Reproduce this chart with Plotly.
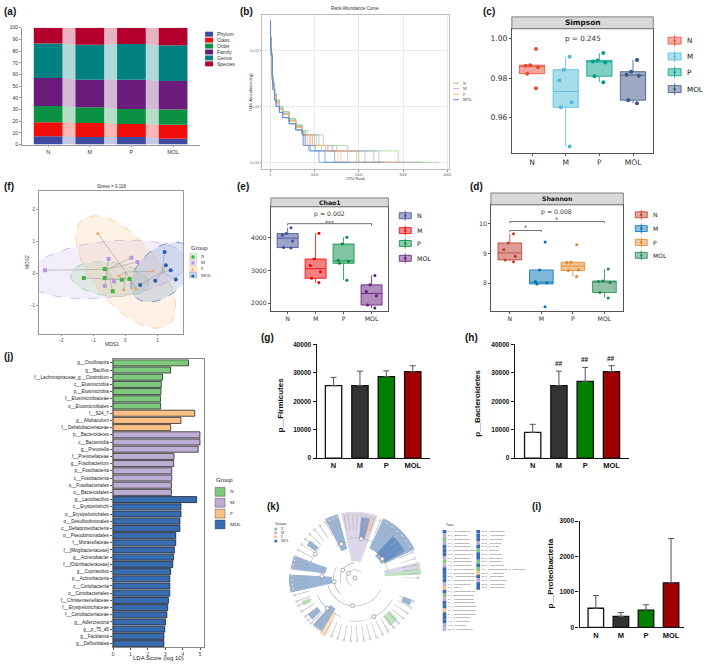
import numpy as np
import plotly.graph_objects as go

W, H = 709, 667
SANS = "Liberation Sans, Arial"
DV = "DejaVu Sans"
SERIF = "Liberation Serif"

groups = ["N", "M", "P", "MOL"]

# (a) annotation ratio at each taxonomic level (%)
a_levels = ["Phylum", "Class", "Order", "Family", "Genus", "Species"]
a_phylum = [7.0, 6.5, 6.5, 5.0]
a_class = [12.0, 12.0, 11.0, 12.0]
a_order = [14.0, 13.5, 13.0, 13.0]
a_family = [24.0, 23.5, 25.0, 24.5]
a_genus = [29.5, 30.0, 30.5, 30.5]
a_species = [13.5, 14.5, 14.0, 15.0]

# (b) rank abundance: head of the curve per group, tail break ranks per sample
b_rank_head = [1, 5, 12, 22, 44, 60, 96, 132, 206, 280, 426, 574, 720]
b_head_N = [0.031, 0.018, 0.012, 0.0092, 0.0037, 0.0026, 0.0017, 0.0013, 0.00098, 0.0008, 0.0006, 0.00046, 0.00037]
b_head_M = [0.031, 0.017, 0.0115, 0.0088, 0.0034, 0.0024, 0.0016, 0.0012, 0.0009, 0.00074, 0.00056, 0.00043, 0.00035]
b_head_P = [0.032, 0.017, 0.0115, 0.0088, 0.0034, 0.0023, 0.0015, 0.00115, 0.00088, 0.00072, 0.00055, 0.00042, 0.00034]
b_head_MOL = [0.034, 0.017, 0.011, 0.0082, 0.003, 0.002, 0.0013, 0.001, 0.00078, 0.00063, 0.00049, 0.00038, 0.00032]
b_tail_levels = [0.00031, 0.0002, 0.00016, 0.0001, 0.0001]
b_tail_N = [[800, 1100, 1500, 2340, 3810], [850, 1200, 1750, 2890, 3500], [750, 1000, 1400, 2000, 2900]]
b_tail_M = [[760, 950, 1300, 1750, 3370], [740, 900, 1250, 2140, 2700], [780, 1050, 1400, 2450, 3000]]
b_tail_P = [[740, 950, 1250, 1530, 2560], [730, 900, 1300, 1950, 2850], [725, 850, 1150, 1600, 2200]]
b_tail_MOL = [[725, 760, 900, 1235, 1530], [730, 800, 1015, 1455, 1750], [722, 740, 870, 1100, 2560]]

# (c) Simpson, (e) Chao1, (d) Shannon
simpson_N = [0.9947, 0.9866, 0.9863, 0.9856, 0.9823, 0.9749]
simpson_M = [0.9909, 0.9843, 0.9788, 0.9678, 0.9653, 0.9455]
simpson_P = [0.9927, 0.9890, 0.9885, 0.9880, 0.9810, 0.9780]
simpson_MOL = [0.9892, 0.9833, 0.9818, 0.9812, 0.9689, 0.9673]
chao_N = [4310, 4130, 4080, 3900, 3700, 3690]
chao_M = [4140, 3350, 3150, 2960, 2760, 2630]
chao_P = [4020, 3810, 3310, 3280, 3220, 2700]
chao_MOL = [2850, 2560, 2360, 2230, 1940, 1850]
shannon_N = [9.66, 9.35, 9.13, 8.90, 8.78, 8.72]
shannon_M = [9.38, 8.44, 8.05, 8.01, 7.97, 7.20]
shannon_P = [9.29, 8.70, 8.69, 8.45, 8.42, 8.22]
shannon_MOL = [8.47, 8.07, 8.05, 8.02, 7.68, 7.50]

# (f) NMDS scores
nmds_N_x = [-1.29, -0.64, -0.64, -0.39, -0.11, 0.13]
nmds_N_y = [-0.13, 0.15, -0.13, -0.55, -0.19, -0.16]
nmds_M_x = [-2.50, -0.52, 0.19, 0.38, -0.35, -0.64]
nmds_M_y = [0.11, 0.46, 0.50, 0.37, -0.24, -0.38]
nmds_P_x = [-0.86, -0.20, -0.05, 0.33, 0.85]
nmds_P_y = [1.26, -0.07, -0.51, -0.48, 0.08]
nmds_MOL_x = [0.46, 0.93, 1.22, 1.26, 1.41, 1.57]
nmds_MOL_y = [-0.35, -0.22, 0.68, 0.27, 0.11, -0.18]
CHI2_95 = 5.991  # qchisq(0.95, 2)

# (j) LEfSe LDA scores
lda_taxa = ["g__Oscillospira", "g__Bacillus", "f__Lachnospiraceae_g__Clostridium", "c__Elusimicrobia",
            "p__Elusimicrobia", "f__Elusimicrobiaceae", "o__Elusimicrobiales", "f__S24_7", "g__Allobaculum",
            "f__Dehalobacteriaceae", "p__Bacteroidetes", "c__Bacteroidia", "g__Prevotella", "f__Prevotellaceae",
            "g__Fusobacterium", "p__Fusobacteria", "c__Fusobacteriia", "o__Fusobacteriales", "o__Bacteroidales",
            "g__Lactobacillus", "c__Erysipelotrichi", "o__Erysipelotrichales", "o__Desulfovibrionales",
            "c__Deltaproteobacteria", "o__Pseudomonadales", "f__Moraxellaceae", "f__[Mogibacteriaceae]",
            "g__Acinetobacter", "f__[Odoribacteraceae]", "g__Cupriavidus", "p__Actinobacteria", "c__Coriobacteriia",
            "o__Coriobacteriales", "f__Christensenellaceae", "f__Erysipelotrichaceae", "f__Coriobacteriaceae",
            "g__Adlercreutzia", "g__p_75_a5", "g__Facklamia", "g__Defluviitalea"]
lda_score = [4.33, 3.30, 2.84, 2.77, 2.75, 2.73, 2.73, 4.69, 3.90, 3.31,
             4.99, 4.99, 4.89, 3.50, 3.48, 3.37, 3.37, 3.35, 3.35,
             4.80, 3.90, 3.90, 3.84, 3.84, 3.60, 3.60, 3.52, 3.48, 3.43, 3.31,
             3.26, 3.26, 3.26, 3.18, 3.14, 3.09, 3.01, 2.97, 2.92, 2.92]
lda_group = ["N"] * 7 + ["P"] * 3 + ["M"] * 9 + ["MOL"] * 21

# (g) (h) (i) phylum level abundance, mean and SD
firm_mean = [25500, 25500, 28700, 30400]
firm_err = [2900, 5100, 2000, 2100]
bact_mean = [9100, 25500, 27000, 30400]
bact_err = [2800, 5100, 4900, 2100]
bact_sig = ["", "##", "##", "##"]
proteo_mean = [540, 310, 490, 1260]
proteo_err = [360, 110, 150, 1250]

# (k) cladogram: highlighted clades (degrees, radius 0-1)
clade_theta = [86, 80, 74, 45, 38, 111, 143, 166, 185, 206, 221, 233, 240, 311, 336, 11, 5.5]
clade_width = [32, 8, 3, 39, 20, 12, 6, 12, 16, 5, 7, 10, 5, 10, 6, 6, 5]
clade_base = [0.25, 0.6, 0.65, 0.5, 0.45, 0.45, 0.72, 0.45, 0.35, 0.75, 0.72, 0.55, 0.6, 0.72, 0.78, 0.45, 0.45]
clade_top = [1.0, 0.92, 0.95, 1.0, 0.85, 1.0, 0.88, 0.98, 1.0, 0.88, 0.9, 0.95, 1.0, 0.9, 0.92, 1.0, 1.0]
clade_group = ["M", "MOL", "P", "MOL", "MOL", "MOL", "MOL", "MOL", "MOL", "N", "MOL", "MOL", "P", "N", "MOL", "M", "N"]
clade_leaf_theta = [0, 4, 8, 12, 18, 24, 30, 36, 42, 48, 54, 60, 66, 72, 76, 80, 84, 88, 92, 96, 100, 106,
                    110, 114, 118, 124, 130, 136, 142, 148, 154, 160, 164, 168, 172, 178, 182, 186, 190, 196,
                    202, 206, 212, 218, 222, 226, 230, 234, 238, 242, 248, 254, 260, 266, 272, 278, 284, 290,
                    296, 302, 308, 314, 320, 326, 332, 338]
clade_arc_r = [0.12, 0.22, 0.32, 0.42, 0.5, 0.55, 0.6, 0.5, 0.62, 0.65, 0.7]
clade_arc_from = [40, 95, 150, 195, 158, 102, 62, 8, 205, 262, 138]
clade_arc_to = [250, 200, 230, 335, 195, 122, 100, 62, 250, 330, 160]
taxa_col1 = ["a: c__Coriobacteriia", "b: c__Bacteroidia", "c: c__Elusimicrobia", "d: c__Fusobacteriia",
             "e: c__Erysipelotrichi", "f: c__Deltaproteobacteria", "g: o__Coriobacteriales", "h: o__Bacteroidales",
             "i: o__Elusimicrobiales", "j: o__Fusobacteriales", "k: o__Erysipelotrichales",
             "l: o__Desulfovibrionales", "m: o__Pseudomonadales", "n: f__Coriobacteriaceae", "o: f__Prevotellaceae",
             "p: f__S24_7", "q: f__[Odoribacteraceae]", "r: f__Elusimicrobiaceae", "s: f__Fusobacteriaceae",
             "t: f__[Mogibacteriaceae]", "u: f__Christensenellaceae", "v: f__Dehalobacteriaceae",
             "w: f__Erysipelotrichaceae", "x: f__Moraxellaceae", "y: g__Adlercreutzia", "z: g__Prevotella",
             "a0: g__Fusobacterium"]
taxa_col1_group = ["MOL", "M", "N", "M", "MOL", "MOL", "MOL", "M", "N", "M", "MOL", "MOL", "MOL", "MOL", "M",
                   "P", "MOL", "N", "M", "MOL", "MOL", "P", "MOL", "MOL", "MOL", "M", "M"]
taxa_col2 = ["b0: g__Lactobacillus", "c0: g__Acinetobacter", "d0: g__Cupriavidus", "e0: g__Prevotella",
             "f0: g__p_75_a5", "g0: g__Bacillus", "h0: g__Facklamia", "i0: g__Defluviitalea", "j0: g__Oscillospira",
             "k0: g__Adlercreutzia", "l0: f__Lachnospiraceae_g__Clostridium", "m0: g__Allobaculum",
             "n0: g__Defluviitalea", "o0: g__Fusobacterium", "p0: g__Acinetobacter", "q0: g__Lactobacillus"]
taxa_col2_group = ["MOL", "MOL", "MOL", "M", "MOL", "N", "MOL", "MOL", "N", "MOL", "N", "P", "MOL", "M", "MOL", "MOL"]

accent = {"N": "#7FC97F", "M": "#BEAED4", "P": "#FDC086", "MOL": "#386CB0"}


def px(x):
    return x / W


def py(y):
    return 1 - y / H


def rgba(hexcol, a):
    h = hexcol.lstrip("#")
    return "rgba(%d,%d,%d,%s)" % (int(h[0:2], 16), int(h[2:4], 16), int(h[4:6], 16), a)


fig = go.Figure()
layout = dict(width=W, height=H, margin=dict(l=0, r=0, t=0, b=0), paper_bgcolor="white",
              plot_bgcolor="white", showlegend=False, barmode="overlay", hovermode=False,
              font=dict(family=SANS, size=6, color="#222"))
shapes = []
annotations = []


def set_axes(n, xdom, ydom, xkw, ykw):
    s = "" if n == 1 else str(n)
    base = dict(showgrid=False, zeroline=False)
    layout["xaxis" + s] = dict(base, domain=[px(xdom[0]), px(xdom[1])], anchor="y" + s, **xkw)
    layout["yaxis" + s] = dict(base, domain=[py(ydom[1]), py(ydom[0])], anchor="x" + s, **ykw)
    return "x" + s, "y" + s


def text(x, y, s, size, color="#222", family=SANS, bold=False, xanchor="center", angle=0):
    annotations.append(dict(x=px(x), y=py(y), xref="paper", yref="paper", text=s, showarrow=False,
                            xanchor=xanchor, yanchor="middle", textangle=angle,
                            font=dict(size=size, color=color, family=family,
                                      weight="bold" if bold else "normal")))


def rect(x0, y0, x1, y1, fill, line="rgba(0,0,0,0)", lw=0.5):
    shapes.append(dict(type="rect", xref="paper", yref="paper", x0=px(x0), x1=px(x1), y0=py(y1), y1=py(y0),
                       fillcolor=fill, line=dict(color=line, width=lw)))


def seg(x0, y0, x1, y1, color, lw=0.8, dash="solid"):
    shapes.append(dict(type="line", xref="paper", yref="paper", x0=px(x0), x1=px(x1), y0=py(y0), y1=py(y1),
                       line=dict(color=color, width=lw, dash=dash)))


def box_legend(x, ys, cols, size, s=6, hb=3, hw=5.5):
    for y, lab, col in zip(ys, groups, cols):
        seg(x + s, y - hw, x + s, y + hw, col, 0.8)
        rect(x, y - hb, x + 2 * s, y + hb, rgba(col, 0.45), col, 0.8)
        shapes.append(dict(type="circle", xref="paper", yref="paper", x0=px(x + s - 1.2), x1=px(x + s + 1.2),
                           y0=py(y + 1.2), y1=py(y - 1.2), fillcolor=col, line=dict(width=0)))
        text(x + 2 * s + 4, y, lab, size, "#222", DV, xanchor="left")


# ---------------- (a) ----------------
a_vals = [a_phylum, a_class, a_order, a_family, a_genus, a_species]
a_cols = ["#3D4BA3", "#F20D0D", "#0B9142", "#6A1B7B", "#008080", "#B3002D"]
a_w = 0.69
a_x = np.arange(len(groups))
axis_a = dict(showline=True, linecolor="#999", linewidth=0.6, ticks="outside", ticklen=2, tickcolor="#999")
xa, ya = set_axes(1, (21, 200), (24, 142),
                  dict(axis_a, range=[-0.63, 3.65], tickvals=a_x, ticktext=groups, tickfont=dict(size=5.5, color="#333")),
                  dict(axis_a, range=[0, 100], dtick=10, tickfont=dict(size=5, color="#333")))
bottom = np.zeros(len(groups))
for lev, vals, col in zip(a_levels, a_vals, a_cols):
    top = bottom + np.array(vals)
    for i in range(len(groups) - 1):
        fig.add_trace(go.Scatter(x=[i + a_w / 2, i + 1 - a_w / 2, i + 1 - a_w / 2, i + a_w / 2],
                                 y=[bottom[i], bottom[i + 1], top[i + 1], top[i]], mode="lines", fill="toself",
                                 fillcolor=rgba(col, 0.3), line=dict(width=0), xaxis=xa, yaxis=ya, hoverinfo="skip"))
    fig.add_trace(go.Bar(x=a_x, y=vals, base=bottom, width=a_w, marker=dict(color=col, line=dict(width=0)),
                         xaxis=xa, yaxis=ya, name=lev))
    bottom = top
for k, (lev, col) in enumerate(zip(a_levels, a_cols)):
    y = 30.5 + 6 * k
    rect(205, y - 2.5, 213, y + 2.5, col)
    text(215, y, lev, 5, "#333", xanchor="left")

# ---------------- (b) ----------------
b_cols = ["#8FD18A", "#C4A8D8", "#F9B874", "#5B8DD6"]
axis_b = dict(showgrid=True, gridcolor="#EBEBEB", gridwidth=0.5, showline=True, mirror=True, linecolor="#BBBBBB",
              linewidth=0.6, ticks="outside", ticklen=1.5, tickcolor="#999", tickfont=dict(size=3.5, color="#666"))
xb, yb = set_axes(2, (262, 450), (11, 167),
                  dict(axis_b, range=[-190, 4040], tickvals=[0, 1000, 2000, 3000, 4000]),
                  dict(axis_b, type="log", range=[-4.124, -1.363], tickvals=[1e-4, 1e-3, 1e-2],
                       ticktext=["1e-04", "1e-03", "1e-02"]))
for head, tails, col in zip([b_head_N, b_head_M, b_head_P, b_head_MOL],
                            [b_tail_N, b_tail_M, b_tail_P, b_tail_MOL], b_cols):
    for tail in tails:
        fig.add_trace(go.Scatter(x=b_rank_head + tail, y=head + b_tail_levels, mode="lines", line_shape="hv",
                                 line=dict(color=col, width=0.8), opacity=0.85, xaxis=xb, yaxis=yb))
text(356, 5, "Rank Abundance Curve", 4.5, "#333")
text(356, 176, "OTU Rank", 4, "#333")
text(250, 89, "OTU Abundance(log)", 4, "#333", angle=-90)
for k, (lab, col) in enumerate(zip(groups, b_cols)):
    y = 80 + 5.6 * k
    seg(454, y, 460, y, col, 1)
    text(462, y, lab, 4, "#444", SERIF, xanchor="left")


# ---------------- box panels (c) (e) (d) ----------------
def box_panel(n, xdom, ydom, hdr, yrange, tickvals, tickfmt, data, cols, title, fs, hs, msize):
    ax = dict(showline=True, mirror=True, linecolor="#555", linewidth=0.7, ticks="outside", ticklen=2,
              tickcolor="#555", tickfont=dict(size=fs, color="#333", family=DV))
    xr, yr = set_axes(n, xdom, ydom, dict(ax, range=[-0.6, 3.6], tickvals=[0, 1, 2, 3], ticktext=groups),
                      dict(ax, range=yrange, tickvals=tickvals, tickformat=tickfmt))
    for i, (vals, col) in enumerate(zip(data, cols)):
        fig.add_trace(go.Box(x=[i] * len(vals), y=vals, width=0.75, fillcolor=rgba(col, 0.5),
                             line=dict(color=col, width=0.8), marker=dict(color=col, size=msize),
                             boxpoints="all", jitter=0.6, pointpos=0, whiskerwidth=0,
                             quartilemethod="inclusive", xaxis=xr, yaxis=yr))
    rect(xdom[0], hdr, xdom[1], ydom[0], "#D9D9D9", "#555", 0.7)
    text((xdom[0] + xdom[1]) / 2, (hdr + ydom[0]) / 2, title, hs, "#111", DV, bold=True)
    return xr, yr


c_cols = ["#E64B35", "#4DBBD5", "#00A087", "#3C5488"]
box_panel(3, (513, 655), (25, 151), 13, [0.942, 1.005], [0.96, 0.98, 1.00], ".2f",
          [simpson_N, simpson_M, simpson_P, simpson_MOL], c_cols, "Simpson", 7.6, 7.4, 4)
text(584, 35, "p = 0.245", 7.2, "#333", DV)
box_legend(670, [37, 53, 69, 86], c_cols, 7.2, s=6.5, hb=3.5, hw=6)

e_cols = ["#3B4992", "#EE0000", "#008B45", "#631879"]
xe, ye = box_panel(4, (271, 389), (205, 310), 196, [1767, 4948], [2000, 3000, 4000], "d",
                   [chao_N, chao_M, chao_P, chao_MOL], e_cols, "Chao1", 6.2, 6.2, 3)
shapes.append(dict(type="path", xref=xe, yref=ye, path="M 0,4370 L 0,4433 L 3,4433 L 3,4370",
                   line=dict(color="#333", width=0.7)))
text(330, 212, "p = 0.002", 6.2, "#333", DV)
text(330, 221, "***", 6, "#333", DV)
box_legend(400, [214, 229, 242, 257], e_cols, 6.3, s=6, hb=3, hw=5)

d_cols = ["#BC3C29", "#0072B5", "#E18727", "#20854E"]
xd, yd = box_panel(5, (492, 625), (203, 310), 191, [7.067, 10.633], [8, 9, 10], "d",
                   [shannon_N, shannon_M, shannon_P, shannon_MOL], d_cols, "Shannon", 6.2, 6.2, 3)
shapes.append(dict(type="path", xref=xd, yref=yd, path="M 0,10.02 L 0,10.07 L 3,10.07 L 3,10.02",
                   line=dict(color="#333", width=0.7)))
shapes.append(dict(type="path", xref=xd, yref=yd, path="M 0,9.72 L 0,9.77 L 1,9.77 L 1,9.72",
                   line=dict(color="#333", width=0.7)))
text(558, 210, "p = 0.008", 6.2, "#333", DV)
text(558, 218, "*", 6.5, "#333", DV)
text(527, 226, "*", 6.5, "#333", DV)
box_legend(637, [213, 227, 241, 254], d_cols, 6, s=6, hb=3, hw=5)

# ---------------- (f) NMDS ----------------
f_pt = ["#3DB83D", "#B59BDB", "#F4A35A", "#2B5DAB"]
f_fill = ["#8FD18F", "#C5B3E6", "#FBC58E", "#5C87C9"]
f_sym = ["square", "square", "triangle-up", "circle"]
axis_f = dict(showline=True, mirror=True, linecolor="#999", linewidth=0.7, ticks="outside", ticklen=2,
              tickcolor="#999", dtick=1, tickfont=dict(size=4.5, color="#444"))
xf, yf = set_axes(6, (38, 183), (189, 333), dict(axis_f, range=[-2.69, 1.80]), dict(axis_f, range=[-1.87, 2.59]))
f_xs = [nmds_N_x, nmds_M_x, nmds_P_x, nmds_MOL_x]
f_ys = [nmds_N_y, nmds_M_y, nmds_P_y, nmds_MOL_y]

circle = np.column_stack([np.cos(np.linspace(0, 2 * np.pi, 61)), np.sin(np.linspace(0, 2 * np.pi, 61))])
for gx, gy, col in zip(f_xs, f_ys, f_fill):
    X = np.column_stack([gx, gy])
    cov = np.cov(X.T)
    ell = X.mean(axis=0) + np.sqrt(CHI2_95) * circle @ np.linalg.cholesky(cov).T
    fig.add_trace(go.Scatter(x=ell[:, 0], y=ell[:, 1], mode="lines", fill="toself", fillcolor=rgba(col, 0.22),
                             line=dict(color=col, width=0.8, dash="dash"), xaxis=xf, yaxis=yf))
for gx, gy in zip(f_xs, f_ys):
    cx, cy = np.mean(gx), np.mean(gy)
    sx, sy = [], []
    for x, y in zip(gx, gy):
        sx += [cx, x, None]
        sy += [cy, y, None]
    fig.add_trace(go.Scatter(x=sx, y=sy, mode="lines", line=dict(color="#A0A0A0", width=0.6), xaxis=xf, yaxis=yf))
for gx, gy, col, sym in zip(f_xs, f_ys, f_pt, f_sym):
    fig.add_trace(go.Scatter(x=gx, y=gy, mode="markers", marker=dict(color=col, size=4, symbol=sym),
                             xaxis=xf, yaxis=yf))
text(111, 184, "Stress = 0.118", 4.5, "#333")
text(111, 344, "MDS1", 5, "#333")
text(26, 261, "MDS2", 5, "#333", angle=-90)
text(189, 247, "Group", 6, "#333", xanchor="left")
for k, (lab, col, sym) in enumerate(zip(groups, f_pt, ["■", "■", "▲", "●"])):
    y = 255 + 6.3 * k
    rect(189.5, y - 2.8, 196.5, y + 2.8, rgba(f_fill[k], 0.3), rgba(f_fill[k], 0.9), 0.5)
    text(193, y, sym, 4, col, DV)
    text(199, y, lab, 4.5, "#333", SERIF, xanchor="left")

# ---------------- (j) LDA ----------------
axis_j = dict(showline=True, mirror=True, linecolor="#888", linewidth=0.7, ticks="outside", ticklen=2,
              tickcolor="#555")
xj, yj = set_axes(7, (112, 204), (359, 650),
                  dict(axis_j, range=[-0.03, 5.23], tickvals=[0, 1, 2, 3, 4, 5], tickfont=dict(size=4.6, color="#333")),
                  dict(axis_j, range=[len(lda_taxa) - 0.5, -0.5], categoryorder="array", categoryarray=lda_taxa,
                       type="category", tickfont=dict(size=4.6, color="#222")))
for g in groups:
    ys = [t for t, gg in zip(lda_taxa, lda_group) if gg == g]
    xs = [s for s, gg in zip(lda_score, lda_group) if gg == g]
    fig.add_trace(go.Bar(x=xs, y=ys, orientation="h", width=0.84,
                         marker=dict(color=accent[g], line=dict(color="#111", width=0.7)), xaxis=xj, yaxis=yj))
text(158, 661, "LDA Score (log 10)", 6, "#222")
text(214, 481, "Group", 6, "#222", xanchor="left")
for k, g in enumerate(groups):
    y = 493 + 11 * k
    rect(215, y - 4.5, 225, y + 4.5, accent[g], "#333", 0.4)
    text(228, y, g, 5, "#222", SERIF, xanchor="left")

# ---------------- (g) (h) (i) bar charts ----------------
bar_cols = ["#FFFFFF", "#333333", "#008000", "#A00000"]


def bar_panel(n, xdom, ydom, xrange, yrange, tickvals, mean, err):
    ax = dict(showline=True, linecolor="#111", linewidth=1.3, ticks="outside", ticklen=3, tickcolor="#111",
              tickwidth=1.2)
    xr, yr = set_axes(n, xdom, ydom,
                      dict(ax, range=xrange, tickvals=[0, 1, 2, 3], ticktext=groups, ticks="",
                           tickfont=dict(size=7.5, color="#111", family=SANS, weight="bold")),
                      dict(ax, range=yrange, tickvals=tickvals, tickformat="d",
                           tickfont=dict(size=6.5, color="#111", family=SANS, weight="bold")))
    fig.add_trace(go.Bar(x=[0, 1, 2, 3], y=mean, width=0.62,
                         marker=dict(color=bar_cols, line=dict(color="#111", width=1.3)),
                         error_y=dict(type="data", symmetric=False, array=err, arrayminus=[0] * 4,
                                      color="#555", thickness=1, width=3),
                         xaxis=xr, yaxis=yr))
    return xr, yr


bar_panel(8, (317, 431), (344, 459), [-0.64, 3.66], [0, 40000], [0, 10000, 20000, 30000, 40000], firm_mean, firm_err)
text(281, 405, "p__Firmicutes", 8, "#111", bold=True, angle=-90)
xh, yh = bar_panel(9, (516, 631), (344, 459), [-0.68, 3.68], [0, 40000], [0, 10000, 20000, 30000, 40000],
                   bact_mean, bact_err)
for i, (m, e, s) in enumerate(zip(bact_mean, bact_err, bact_sig)):
    if s:
        annotations.append(dict(x=i, y=m + e, xref=xh, yref=yh, text=s, showarrow=False, yanchor="bottom",
                                yshift=2, font=dict(size=6.5, color="#111", family=SANS, weight="bold")))
text(479, 403, "p__Bacteroidetes", 8, "#111", bold=True, angle=-90)
bar_panel(10, (581, 686), (522.7, 630), [-0.65, 3.52], [0, 3000], [0, 1000, 2000, 3000], proteo_mean, proteo_err)
text(552, 576, "p__Proteobacteria", 8, "#111", bold=True, angle=-90)

# ---------------- (k) cladogram ----------------
arc_theta = [(a + b) / 2 for a, b in zip(clade_arc_from, clade_arc_to)]
arc_span = [b - a for a, b in zip(clade_arc_from, clade_arc_to)]
fig.add_trace(go.Barpolar(theta=clade_theta, width=clade_width, base=clade_base,
                          r=[t - b for t, b in zip(clade_top, clade_base)],
                          marker=dict(color=[rgba(accent[g], 0.5) for g in clade_group], line=dict(width=0)),
                          subplot="polar"))
fig.add_trace(go.Barpolar(theta=clade_leaf_theta, width=[0.5] * len(clade_leaf_theta),
                          base=[0.72] * len(clade_leaf_theta), r=[0.22] * len(clade_leaf_theta),
                          marker=dict(color="#A5A5A5", line=dict(width=0)), subplot="polar"))
fig.add_trace(go.Barpolar(theta=arc_theta, width=arc_span, base=clade_arc_r, r=[0.008] * len(clade_arc_r),
                          marker=dict(color="#A5A5A5", line=dict(width=0)), subplot="polar"))
fig.add_trace(go.Scatterpolar(theta=clade_leaf_theta, r=[0.95] * len(clade_leaf_theta), mode="markers",
                              marker=dict(size=2, color="white", line=dict(color="#999", width=0.5)),
                              subplot="polar"))
fig.add_trace(go.Scatterpolar(theta=[0] + arc_theta, r=[0] + clade_arc_r, mode="markers",
                              marker=dict(size=4, color="white", line=dict(color="#888", width=0.7)),
                              subplot="polar"))
layout["polar"] = dict(domain=dict(x=[px(288), px(423)], y=[py(647), py(513)]), bgcolor="rgba(0,0,0,0)",
                       barmode="overlay", hole=0,
                       radialaxis=dict(visible=False, range=[0, 1]),
                       angularaxis=dict(visible=False, direction="counterclockwise", rotation=0))
text(273, 526, "Groups", 3.5, "#333", xanchor="left")
for k, g in enumerate(groups):
    y = 530.5 + 4.2 * k
    text(276, y, "■", 3.5, accent[g], DV)
    text(279, y, g, 3.5, "#444", SERIF, xanchor="left")
xt, yt = set_axes(11, (442, 530), (531, 634), dict(range=[-0.1, 2.5], visible=False),
                  dict(range=[26.6, -0.6], visible=False))
fig.add_trace(go.Scatter(x=[0] * len(taxa_col1) + [1] * len(taxa_col2),
                         y=list(range(len(taxa_col1))) + list(range(len(taxa_col2))),
                         text=taxa_col1 + taxa_col2, mode="markers+text", textposition="middle right",
                         textfont=dict(size=2.5, color="#444"),
                         marker=dict(symbol="square", size=3.6,
                                     color=[accent[g] for g in taxa_col1_group + taxa_col2_group]),
                         xaxis=xt, yaxis=yt))
text(445, 527, "Taxa", 3.5, "#333", xanchor="left")

# ---------------- panel labels ----------------
for lab, x, y in [("(a)", 9, 8), ("(b)", 247, 8), ("(c)", 490, 8), ("(f)", 8, 184), ("(e)", 243, 184),
                  ("(d)", 478, 184), ("(j)", 8, 356), ("(g)", 268, 337), ("(h)", 473, 337),
                  ("(k)", 273, 508), ("(i)", 538, 508)]:
    text(x, y, lab, 10, "#111", bold=True)

layout["shapes"] = shapes
layout["annotations"] = annotations
fig.update_layout(**layout)
# page body has an 8px default margin; drop it so the figure fills the window
fig.write_html("out.html", config={"displayModeBar": False},
               post_script="document.body.style.margin='0px';")
